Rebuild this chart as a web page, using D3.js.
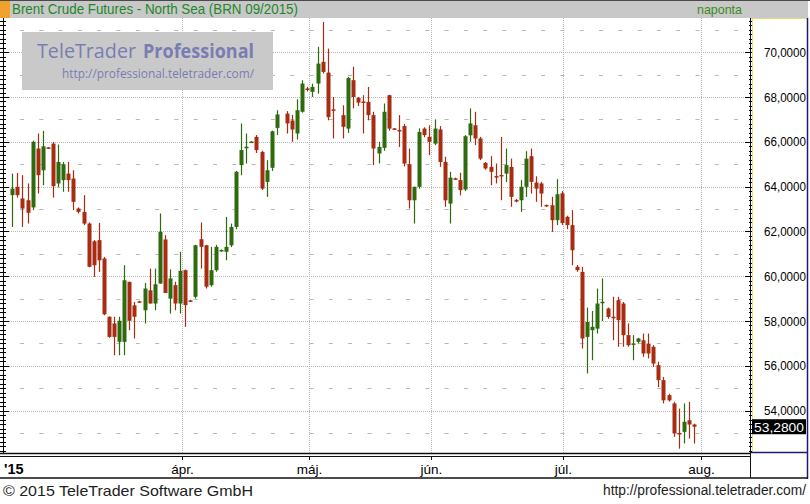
<!DOCTYPE html>
<html><head><meta charset="utf-8">
<script src="https://cdn.jsdelivr.net/npm/d3@7/dist/d3.min.js"></script>
<style>html,body{margin:0;padding:0;background:#fff;} svg{display:block;}</style>
</head><body>
<svg id="c" width="810" height="504"></svg>
<script>
const titleText = "Brent Crude Futures - North Sea (BRN 09/2015)";
const periodText = "naponta";
const openV = [63.62,63.99,63.47,63.39,63.07,65.70,64.73,65.75,65.92,64.14,
64.29,64.58,64.36,63.02,62.87,62.35,61.56,61.61,60.79,58.19,
57.89,57.07,57.07,59.75,58.70,58.88,58.48,59.37,58.78,59.67,
61.64,59.00,59.60,58.78,60.27,58.92,59.08,61.65,61.38,59.60,
60.27,61.15,61.09,61.38,62.20,64.96,65.75,66.00,66.22,65.55,
64.21,64.84,66.62,null,67.26,66.95,66.37,67.34,68.38,68.23,
68.60,69.57,69.09,67.45,null,67.19,66.59,68.75,67.96,67.80,
67.78,67.19,65.48,65.73,68.08,66.60,66.53,66.70,65.00,63.39,
63.99,66.59,66.22,65.92,66.55,65.10,63.24,64.37,64.29,63.87,
66.29,66.74,66.15,65.06,64.88,64.47,64.52,64.58,64.88,63.40,
63.39,63.99,65.36,64.18,64.14,63.18,63.17,62.50,63.70,62.65,
62.28,60.42,60.19,57.29,57.59,57.66,58.84,58.56,58.19,58.93,
58.78,57.37,56.98,57.07,57.14,56.99,56.85,56.03,55.36,54.69,
54.32,53.00,53.05,53.57,53.38];
const highV = [64.58,64.61,64.51,64.14,66.05,66.37,66.49,65.77,66.00,65.88,
65.10,65.10,64.73,63.07,63.62,62.40,61.61,62.38,60.86,58.20,
58.19,58.19,60.49,59.75,58.85,58.90,59.70,60.34,60.34,62.80,
61.83,60.30,59.75,61.09,60.30,58.95,61.40,62.40,61.40,61.31,
61.40,61.20,62.65,62.35,64.70,66.82,66.37,66.03,66.30,65.60,
65.18,66.50,67.41,null,67.37,67.20,67.90,68.75,68.45,68.60,
70.24,71.35,70.16,68.00,null,67.63,68.90,69.35,68.00,68.08,
68.45,67.34,66.00,67.71,68.10,66.62,67.19,66.80,65.70,64.00,
66.60,66.65,66.74,67.00,66.70,65.33,64.66,64.40,64.62,66.30,
67.49,67.34,66.22,65.10,65.36,65.03,66.22,65.70,65.25,63.45,
64.29,65.58,65.70,64.46,64.20,63.20,63.54,64.33,63.80,62.70,
62.95,60.50,60.42,58.60,58.45,59.45,59.90,58.60,59.08,59.08,
58.85,57.89,57.37,57.25,57.44,57.44,56.92,56.18,55.50,54.75,
54.39,54.09,54.32,54.39,53.42];
const lowV = [62.20,63.51,62.20,62.35,62.95,63.69,64.06,65.70,63.51,63.96,
63.77,63.77,62.95,62.80,62.28,60.40,59.97,60.19,58.26,57.25,
56.47,56.47,56.47,57.59,57.22,58.84,57.89,58.78,58.48,59.67,
59.25,58.33,58.48,58.33,57.74,58.85,59.00,60.34,59.45,59.53,
60.20,61.10,60.71,61.30,62.10,64.51,65.03,65.97,65.50,63.85,
63.54,64.70,66.30,null,66.37,66.00,66.10,67.30,68.25,68.00,
68.15,69.05,66.96,66.15,null,66.15,66.40,67.49,67.60,66.37,
66.96,64.96,65.03,65.60,66.50,66.56,65.77,64.90,63.02,62.35,
63.90,66.20,65.40,65.85,64.88,63.10,62.35,64.30,63.61,63.80,
66.00,65.85,65.18,64.75,64.06,64.14,63.39,64.21,63.10,63.30,
62.87,63.54,63.69,63.32,63.10,63.10,61.98,62.28,62.28,62.10,
60.49,60.20,56.77,55.66,56.25,57.44,58.00,58.10,57.14,56.85,
56.85,56.85,56.25,57.00,56.40,56.33,55.95,55.05,54.32,54.40,
52.83,52.30,52.53,52.75,52.53];
const closeV = [63.91,63.62,63.02,62.83,66.00,64.51,65.80,65.72,64.02,65.10,
65.00,64.29,63.32,62.87,62.35,60.42,60.49,60.71,58.30,57.29,
57.29,58.01,59.82,58.01,58.19,58.86,59.45,58.78,59.64,61.98,
59.25,59.90,58.78,60.24,58.71,58.88,61.38,61.31,59.53,60.27,
61.31,61.17,61.31,62.20,64.66,65.63,65.78,66.01,65.63,63.91,
64.73,66.47,67.22,null,66.82,66.55,67.41,68.60,68.33,68.45,
69.49,69.12,67.10,67.40,null,66.67,68.85,68.00,67.75,67.76,
67.19,65.70,65.77,67.34,66.59,66.58,66.51,65.03,63.39,63.99,
66.44,66.30,66.00,66.59,65.10,63.39,64.40,64.35,63.84,66.25,
66.82,66.15,65.25,64.81,64.66,64.45,64.50,64.96,63.54,63.38,
63.99,65.25,64.21,63.91,63.69,63.16,62.50,63.66,62.37,62.28,
61.16,60.27,57.22,57.96,57.74,58.78,58.86,58.18,58.17,58.04,
57.37,56.92,57.00,57.22,56.55,56.55,56.10,55.36,54.46,54.46,
52.98,52.98,53.50,53.38,53.28];
const monthLabels = ["ápr.","máj.","jún.","júl.","aug."];
const monthFirstBar = [33, 58, 82, 108, 135];
const yearLabel = "'15";
const yTickValues = [54,56,58,60,62,64,66,68,70];
const lastPrice = 53.28;
const copyrightText = "\u00A9 2015 TeleTrader Software GmbH";
const urlText = "http://professional.teletrader.com/";
const brand1 = "TeleTrader", brand2 = "Professional";

const svg = d3.select("#c");
const P = {left:3, right:750, top:18, bottom:453};
const y = d3.scaleLinear().domain([54,70]).range([410.6,52.2]);
const x = d3.scaleLinear().domain([0,134]).range([12.3,694]);
const fmt = v => d3.format(".4f")(v).replace(".", ",");
const FONT = "'Liberation Sans', Arial, sans-serif";

svg.append("rect").attr("width",810).attr("height",504).attr("fill","#fff");

// header
svg.append("rect").attr("x",0).attr("y",0).attr("width",808).attr("height",18).attr("fill","#c8c8c8");
svg.append("rect").attr("x",0).attr("y",0).attr("width",810).attr("height",1).attr("fill","#4a4a4a");
svg.append("rect").attr("x",0).attr("y",1).attr("width",10).attr("height",17).attr("fill","#f0a22e");
svg.append("text").attr("x",12).attr("y",14).attr("font-family",FONT).attr("font-size",14)
  .attr("fill","#23862a").attr("textLength",286).attr("lengthAdjust","spacingAndGlyphs").text(titleText);
svg.append("text").attr("x",697).attr("y",14).attr("font-family",FONT).attr("font-size",13)
  .attr("fill","#3d8a22").attr("textLength",45).attr("lengthAdjust","spacingAndGlyphs").text(periodText);

// grid
const g = svg.append("g");
const evens = d3.range(54,71,2), odds = d3.range(53,72,2);
g.selectAll(".ge").data(evens).join("line")
  .attr("x1",P.left).attr("x2",P.right).attr("y1",d=>Math.round(y(d))+0.5).attr("y2",d=>Math.round(y(d))+0.5)
  .attr("stroke","#b8b8b8").attr("stroke-dasharray","1,1");
g.selectAll(".go").data(odds).join("line")
  .attr("x1",20).attr("x2",P.right).attr("y1",d=>Math.round(y(d))+0.5).attr("y2",d=>Math.round(y(d))+0.5)
  .attr("stroke","#b8b8b8").attr("stroke-dasharray","4,15.3");
const monthX = i => Math.round(x(monthFirstBar[i] + 0.3)) + 0.5;
g.selectAll(".gv").data(monthLabels).join("line")
  .attr("x1",(d,i)=>monthX(i)).attr("x2",(d,i)=>monthX(i)).attr("y1",P.top).attr("y2",P.bottom)
  .attr("stroke","#b8b8b8").attr("stroke-dasharray","1,1");

// watermark
svg.append("rect").attr("x",22).attr("y",32).attr("width",251).attr("height",58).attr("fill","#c9c9c9");
svg.append("text").attr("x",37).attr("y",58).attr("font-family","'Open Sans', sans-serif").attr("font-size",20)
  .attr("fill","#7a7db3").attr("textLength",99).attr("lengthAdjust","spacingAndGlyphs").text(brand1);
svg.append("text").attr("x",143).attr("y",58).attr("font-family","'Open Sans', sans-serif").attr("font-size",20)
  .attr("font-weight","bold").attr("fill","#7a7db3").attr("textLength",111).attr("lengthAdjust","spacingAndGlyphs").text(brand2);
svg.append("text").attr("x",62).attr("y",78).attr("font-family","'Open Sans', sans-serif").attr("font-size",13)
  .attr("fill","#7a7db3").attr("textLength",192).attr("lengthAdjust","spacingAndGlyphs").text(urlText);

// candles
const bars = d3.range(openV.length).filter(i => openV[i] !== null).map(i => ({
  i, o:openV[i], h:highV[i], l:lowV[i], c:closeV[i]
}));
const UP = "#2e6b0e", DOWN = "#a82c12";
const cg = svg.append("g");
cg.selectAll(".w").data(bars).join("line")
  .attr("x1",d=>Math.round(x(d.i))+0.5).attr("x2",d=>Math.round(x(d.i))+0.5)
  .attr("y1",d=>y(d.h)).attr("y2",d=>y(d.l))
  .attr("stroke",d=>d.c>=d.o?UP:DOWN).attr("stroke-width",1.2);
cg.selectAll(".b").data(bars).join("rect")
  .attr("x",d=>Math.round(x(d.i))-1.5).attr("width",4)
  .attr("y",d=>y(Math.max(d.o,d.c)))
  .attr("height",d=>Math.max(1.5, Math.abs(y(d.o)-y(d.c))))
  .attr("fill",d=>d.c>=d.o?UP:DOWN);

// left axis ticks
const minorT = d3.range(52.2,71.5,0.2);
svg.append("line").attr("x1",3.5).attr("x2",3.5).attr("y1",P.top).attr("y2",P.bottom).attr("stroke","#000");
svg.selectAll(".lt").data(minorT).join("line")
  .attr("x1",0).attr("x2",d=>Math.abs(d-Math.round(d))<0.01 && Math.round(d)%2===0 ? 9 : 6)
  .attr("y1",d=>Math.round(y(d))+0.5).attr("y2",d=>Math.round(y(d))+0.5).attr("stroke","#000");

// right axis panel
svg.append("rect").attr("x",750).attr("y",18).attr("width",58).attr("height",435).attr("fill","#fff");
svg.append("line").attr("x1",752.5).attr("x2",752.5).attr("y1",18).attr("y2",452).attr("stroke","#e6df74");
svg.append("line").attr("x1",750).attr("x2",807).attr("y1",18.5).attr("y2",18.5).attr("stroke","#e6df74");
svg.selectAll(".rt").data(minorT).join("line")
  .attr("x1",749).attr("x2",752).attr("y1",d=>Math.round(y(d))+0.5).attr("y2",d=>Math.round(y(d))+0.5)
  .attr("stroke","#000");
svg.selectAll(".rm").data(yTickValues).join("line")
  .attr("x1",745).attr("x2",752).attr("y1",d=>Math.round(y(d))+0.5).attr("y2",d=>Math.round(y(d))+0.5)
  .attr("stroke","#000");
svg.selectAll(".yl").data(yTickValues).join("text")
  .attr("x",764).attr("y",d=>y(d)+4.5).attr("font-family",FONT).attr("font-size",13)
  .attr("fill","#000").attr("textLength",42).attr("lengthAdjust","spacingAndGlyphs").text(fmt);
svg.append("rect").attr("x",752).attr("y",y(lastPrice)-7.5).attr("width",54).attr("height",15).attr("fill","#000");
svg.append("text").attr("x",754).attr("y",y(lastPrice)+5).attr("font-family",FONT).attr("font-size",13)
  .attr("fill","#fff").attr("textLength",50).attr("lengthAdjust","spacingAndGlyphs").text(fmt(lastPrice));
svg.append("line").attr("x1",807.5).attr("x2",807.5).attr("y1",18).attr("y2",479).attr("stroke","#1c1c6e").attr("stroke-width",1.5);
svg.append("line").attr("x1",750).attr("x2",808).attr("y1",452.5).attr("y2",452.5).attr("stroke","#1c1c6e").attr("stroke-width",1.5);

// x axis band
svg.append("line").attr("x1",0).attr("x2",750).attr("y1",453.5).attr("y2",453.5).attr("stroke","#111").attr("stroke-width",1.5);
svg.append("line").attr("x1",0).attr("x2",750).attr("y1",456.5).attr("y2",456.5).attr("stroke","#111");
svg.append("line").attr("x1",750.5).attr("x2",750.5).attr("y1",18).attr("y2",478).attr("stroke","#111");
svg.append("line").attr("x1",0).attr("x2",808).attr("y1",478).attr("y2",478).attr("stroke","#111").attr("stroke-width",1.5);
svg.selectAll(".xt").data(monthLabels).join("line")
  .attr("x1",(d,i)=>monthX(i)).attr("x2",(d,i)=>monthX(i)).attr("y1",456).attr("y2",460).attr("stroke","#111");
svg.selectAll(".xl").data(monthLabels).join("text")
  .attr("x",(d,i)=>monthX(i)).attr("y",474).attr("text-anchor","middle")
  .attr("font-family",FONT).attr("font-size",13.5).attr("fill","#000").text(d=>d);
svg.append("text").attr("x",4).attr("y",474).attr("font-family",FONT).attr("font-size",14.5)
  .attr("font-weight","bold").attr("fill","#000").text(yearLabel);

// footer
svg.append("text").attr("x",3).attr("y",496).attr("font-family",FONT).attr("font-size",15)
  .attr("fill","#222").attr("textLength",250).attr("lengthAdjust","spacingAndGlyphs").text(copyrightText);
svg.append("text").attr("x",603).attr("y",495).attr("font-family",FONT).attr("font-size",14)
  .attr("fill","#222").attr("textLength",203).attr("lengthAdjust","spacingAndGlyphs").text(urlText);
</script>
</body></html>
